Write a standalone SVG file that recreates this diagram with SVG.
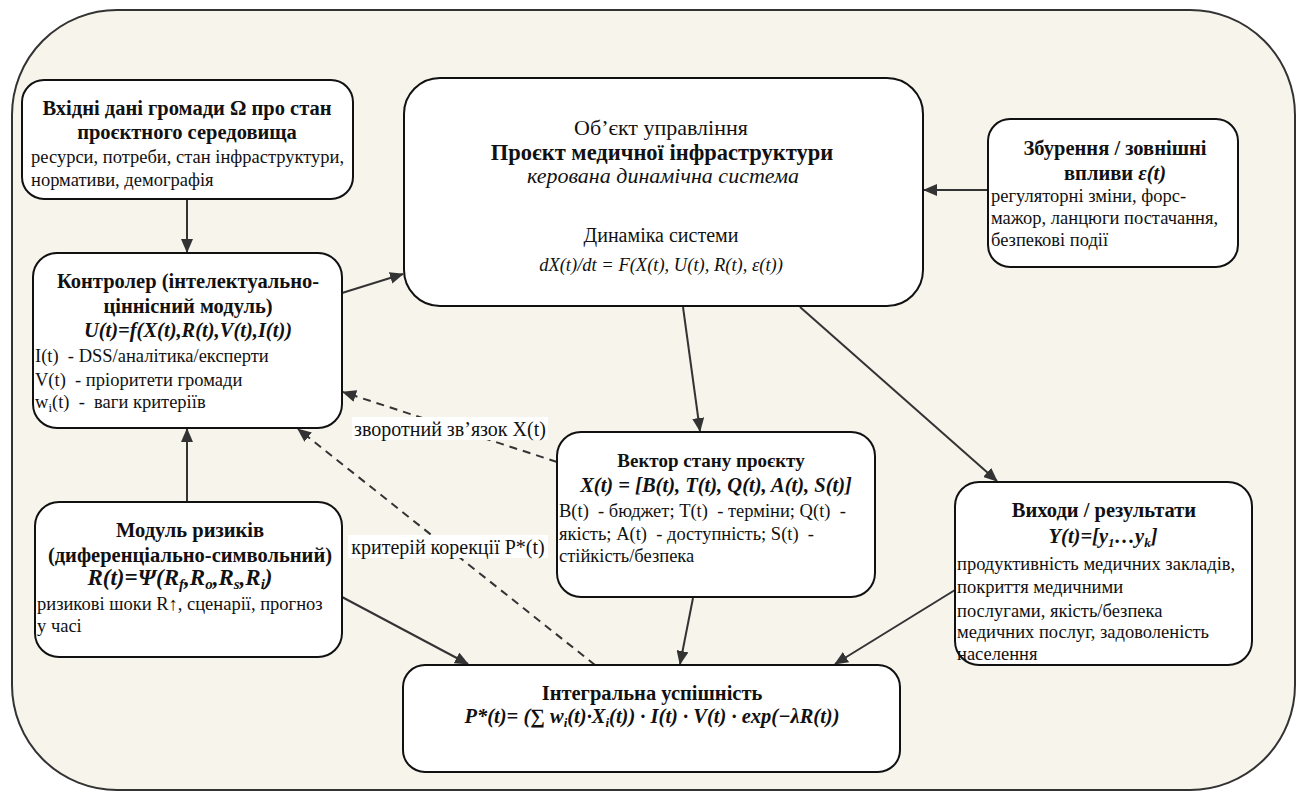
<svg xmlns="http://www.w3.org/2000/svg" width="1301" height="791" viewBox="0 0 1301 791">
  <style>
    text { font-family: 'Liberation Serif', 'Times New Roman', serif; fill: #111; }
    .box { fill: #ffffff; stroke: #111; stroke-width: 2; }
    .t { font-size: 20.5px; font-weight: bold; text-anchor: middle; }
    .f { font-size: 20.5px; font-weight: bold; font-style: italic; text-anchor: middle; }
    .b { font-size: 18.5px; }
    .c { font-size: 20px; text-anchor: middle; }
    .ci { font-size: 20px; font-style: italic; text-anchor: middle; }
    .lbl { font-size: 20px; text-anchor: middle; }
    .lblbg { fill: #ffffff; }
    .edge { stroke: #333; stroke-width: 2; fill: none; marker-end: url(#arrow); }
    .dash { stroke-dasharray: 8 6; }
  </style>
  <defs>
    <marker id="arrow" markerUnits="userSpaceOnUse" markerWidth="14" markerHeight="12" viewBox="0 0 14 12" refX="13" refY="6" orient="auto">
      <path d="M0,0 L14,6 L0,12 Z" fill="#333"/>
    </marker>
  </defs>

  <!-- outer frame -->
  <rect x="12" y="10" width="1283" height="780" rx="105" ry="105" fill="#f7f4ec" stroke="#333" stroke-width="2"/>

  <!-- connectors -->
  <g id="connectors">
    <line class="edge" x1="187" y1="200" x2="187" y2="252"/>
    <line class="edge" x1="342" y1="293" x2="403" y2="274"/>
    <line class="edge" x1="988" y1="190" x2="924" y2="190"/>
    <line class="edge" x1="187" y1="502" x2="187" y2="429"/>
    <line class="edge" x1="683" y1="307" x2="700" y2="431"/>
    <line class="edge" x1="800" y1="307" x2="997" y2="481"/>
    <line class="edge" x1="342" y1="597" x2="468" y2="664"/>
    <line class="edge" x1="693" y1="598" x2="680" y2="664"/>
    <line class="edge" x1="955" y1="590" x2="835" y2="664"/>
    <line class="edge dash" x1="557" y1="462" x2="343" y2="392"/>
    <line class="edge dash" x1="595" y1="665" x2="298" y2="429"/>
    <rect class="lblbg" x="352" y="417" width="196" height="23"/>
    <text class="lbl" x="450" y="436">зворотний зв’язок X(t)</text>
    <rect class="lblbg" x="348" y="535" width="200" height="23"/>
    <text class="lbl" x="448" y="554">критерій корекції P*(t)</text>
  </g>

  <!-- community input data -->
  <g id="node-input">
    <rect class="box" x="22" y="80" width="331" height="119" rx="22"/>
    <text class="t" x="187" y="115">Вхідні дані громади Ω про стан</text>
    <text class="t" x="187" y="139">проєктного середовища</text>
    <text class="b" x="31" y="163">ресурси, потреби, стан інфраструктури,</text>
    <text class="b" x="31" y="186">нормативи, демографія</text>
  </g>

  <!-- controller -->
  <g id="node-controller">
    <rect class="box" x="33" y="253" width="309" height="175" rx="24"/>
    <text class="t" x="188" y="288">Контролер (інтелектуально-</text>
    <text class="t" x="188" y="313">ціннісний модуль)</text>
    <text class="f" x="188" y="337">U(t)=f(X(t),R(t),V(t),I(t))</text>
    <text class="b" x="35" y="362" xml:space="preserve">I(t)  - DSS/аналітика/експерти</text>
    <text class="b" x="35" y="386" xml:space="preserve">V(t)  - пріоритети громади</text>
    <text class="b" x="35" y="408" xml:space="preserve">w<tspan font-size="13" dy="4">i</tspan><tspan dy="-4">(t)  -  ваги критеріїв</tspan></text>
  </g>

  <!-- control object -->
  <g id="node-object">
    <rect class="box" x="404" y="78" width="519" height="228" rx="36"/>
    <text class="c" x="661" y="135" style="font-size:22px">Об’єкт управління</text>
    <text class="t" x="662" y="160" style="font-size:22.5px">Проєкт медичної інфраструктури</text>
    <text class="ci" x="663" y="183" style="font-size:22px">керована динамічна система</text>
    <text class="c" x="661" y="242">Динаміка системи</text>
    <text class="ci" x="661" y="271" style="font-size:18.5px">dX(t)/dt = F(X(t), U(t), R(t), ε(t))</text>
  </g>

  <!-- disturbances -->
  <g id="node-disturbance">
    <rect class="box" x="988" y="119" width="250" height="148" rx="22"/>
    <text class="t" x="1115" y="155">Збурення / зовнішні</text>
    <text class="t" x="1115" y="180">впливи <tspan font-style="italic">ε(t)</tspan></text>
    <text class="b" x="991" y="202">регуляторні зміни, форс-</text>
    <text class="b" x="991" y="224">мажор, ланцюги постачання,</text>
    <text class="b" x="991" y="246">безпекові події</text>
  </g>

  <!-- risk module -->
  <g id="node-risk">
    <rect class="box" x="35" y="502" width="307" height="155" rx="24"/>
    <text class="t" x="190" y="537">Модуль ризиків</text>
    <text class="t" x="190" y="562">(диференціально-символьний)</text>
    <text class="f" x="180" y="585" style="font-size:23px">R(t)=Ψ(R<tspan font-size="15" dy="4">f</tspan><tspan dy="-4">,R</tspan><tspan font-size="15" dy="4">o</tspan><tspan dy="-4">,R</tspan><tspan font-size="15" dy="4">s</tspan><tspan dy="-4">,R</tspan><tspan font-size="15" dy="4">i</tspan><tspan dy="-4">)</tspan></text>
    <text class="b" x="37" y="610">ризикові шоки R↑, сценарії, прогноз</text>
    <text class="b" x="37" y="632">у часі</text>
  </g>

  <!-- state vector -->
  <g id="node-state">
    <rect class="box" x="557" y="432" width="318" height="165" rx="24"/>
    <text class="t" x="711" y="467" style="font-size:19px">Вектор стану проєкту</text>
    <text class="f" x="716" y="492">X(t) = [B(t), T(t), Q(t), A(t), S(t)]</text>
    <text class="b" x="559" y="517" xml:space="preserve">B(t)  - бюджет; T(t)  - терміни; Q(t)  -</text>
    <text class="b" x="559" y="540" xml:space="preserve">якість; A(t)  - доступність; S(t)  -</text>
    <text class="b" x="559" y="562">стійкість/безпека</text>
  </g>

  <!-- outputs -->
  <g id="node-outputs">
    <rect class="box" x="955" y="482" width="297" height="183" rx="24"/>
    <text class="t" x="1104" y="517">Виходи / результати</text>
    <text class="f" x="1103" y="543">Y(t)=[y<tspan font-size="13" dy="4">1</tspan><tspan dy="-4">…y</tspan><tspan font-size="13" dy="4">k</tspan><tspan dy="-4">]</tspan></text>
    <text class="b" x="957" y="570">продуктивність медичних закладів,</text>
    <text class="b" x="957" y="593">покриття медичними</text>
    <text class="b" x="957" y="617">послугами, якість/безпека</text>
    <text class="b" x="957" y="638">медичних послуг, задоволеність</text>
    <text class="b" x="957" y="660">населення</text>
  </g>

  <!-- integral success -->
  <g id="node-integral">
    <rect class="box" x="403" y="665" width="497" height="107" rx="22"/>
    <text class="t" x="652" y="700">Інтегральна успішність</text>
    <text class="f" x="652" y="723">P*(t)= (∑ w<tspan font-size="13" dy="4">i</tspan><tspan dy="-4">(t)·X</tspan><tspan font-size="13" dy="4">i</tspan><tspan dy="-4">(t)) · I(t) · V(t) · exp(−λR(t))</tspan></text>
  </g>
</svg>
